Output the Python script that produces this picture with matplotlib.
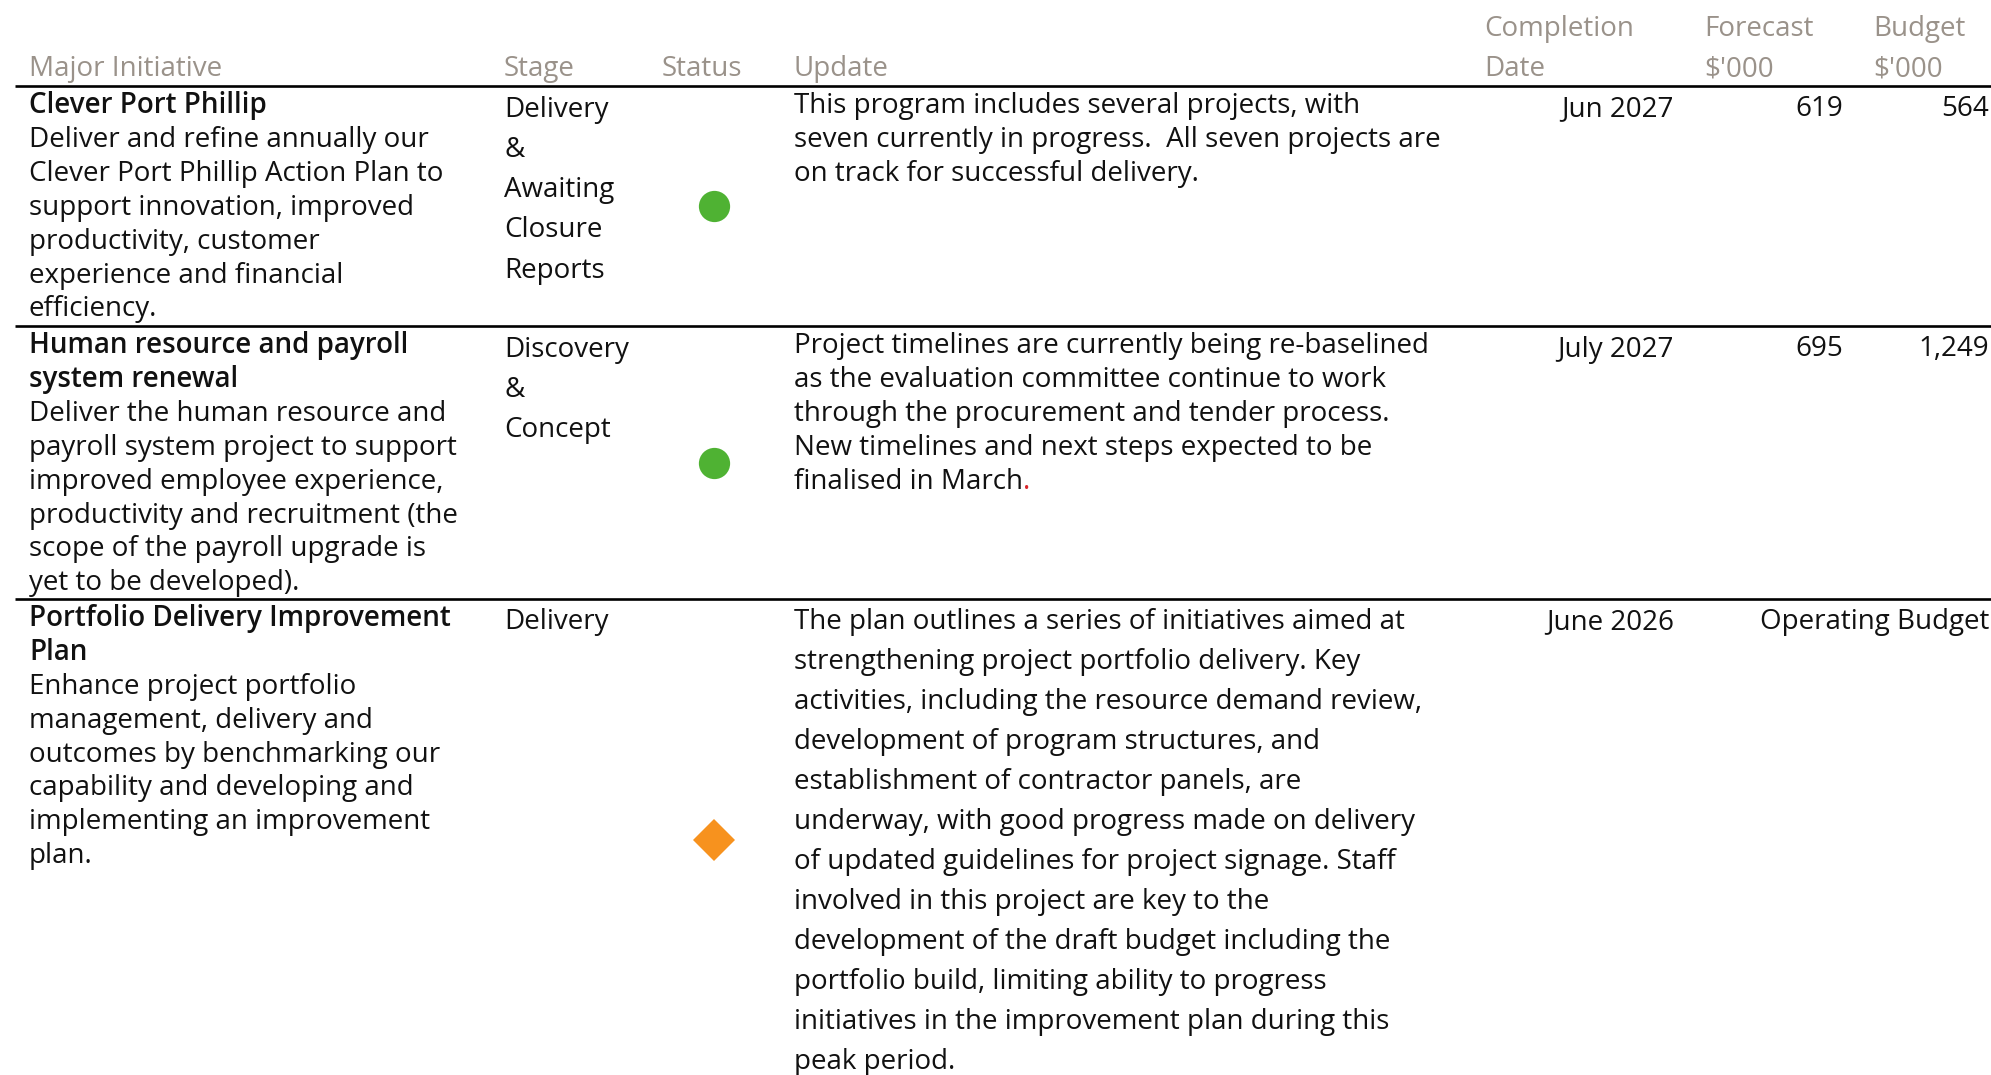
import matplotlib
matplotlib.use("Agg")
import matplotlib.pyplot as plt

# ---------------- data ----------------
headers_top = ["", "", "", "", "Completion", "Forecast", "Budget"]
headers_bottom = ["Major Initiative", "Stage", "Status", "Update", "Date", "$'000", "$'000"]

initiatives = [
    "Clever Port Phillip",
    "Human resource and payroll\nsystem renewal",
    "Portfolio Delivery Improvement\nPlan",
]
descriptions = [
    "Deliver and refine annually our\nClever Port Phillip Action Plan to\nsupport innovation, improved\n"
    "productivity, customer\nexperience and financial\nefficiency.",
    "Deliver the human resource and\npayroll system project to support\nimproved employee experience,\n"
    "productivity and recruitment (the\nscope of the payroll upgrade is\nyet to be developed).",
    "Enhance project portfolio\nmanagement, delivery and\noutcomes by benchmarking our\n"
    "capability and developing and\nimplementing an improvement\nplan.",
]
stages = [
    "Delivery\n&\nAwaiting\nClosure\nReports",
    "Discovery\n&\nConcept",
    "Delivery",
]
statuses = ["On track", "On track", "Monitor"]
updates = [
    "This program includes several projects, with\nseven currently in progress.  All seven projects are\n"
    "on track for successful delivery.",
    "Project timelines are currently being re-baselined\nas the evaluation committee continue to work\n"
    "through the procurement and tender process.\nNew timelines and next steps expected to be\n"
    "finalised in March",
    "The plan outlines a series of initiatives aimed at\nstrengthening project portfolio delivery. Key\n"
    "activities, including the resource demand review,\ndevelopment of program structures, and\n"
    "establishment of contractor panels, are\nunderway, with good progress made on delivery\n"
    "of updated guidelines for project signage. Staff\ninvolved in this project are key to the\n"
    "development of the draft budget including the\nportfolio build, limiting ability to progress\n"
    "initiatives in the improvement plan during this\npeak period.",
]
update_accent = ["", ".", ""]
completion_dates = ["Jun 2027", "July 2027", "June 2026"]
forecast_k = ["619", "695", ""]
budget_k = ["564", "1,249", "Operating Budget"]

# ---------------- style / layout ----------------
W, H = 1991, 1075
FONT = "Open Sans"
FS = 20
TXT = "#111111"
HDR = "#9a928a"
status_style = {"On track": dict(marker="o", color="#4fb233", ms=22.5),
                "Monitor": dict(marker="D", color="#f7921e", ms=21)}

col_x = dict(init=29, stage=504, status_hdr=662, status=714, update=794,
             comp_hdr=1484, comp=1674, fc_hdr=1704, fc=1843, bud_hdr=1873, bud=1989)
hdr_x = [col_x["init"], col_x["stage"], col_x["status_hdr"], col_x["update"],
         col_x["comp_hdr"], col_x["fc_hdr"], col_x["bud_hdr"]]
row_tops = [86, 326, 599]
table_bottom = 1080
line_h_text = 33.9
line_h_stage = 40.3
update_line_h = [33.9, 33.9, 40.0]
update_first = [27, 27, 30.5]

fig = plt.figure(figsize=(W / 100, H / 100), dpi=100)
ax = fig.add_axes([0, 0, 1, 1])
ax.set_xlim(0, W)
ax.set_ylim(H, 0)
ax.axis("off")


def draw_lines(x, y0, text, dy, ha="left", color=TXT, weight="normal"):
    arts = []
    for i, ln in enumerate(text.split("\n")):
        arts.append(ax.text(x, y0 + i * dy, ln, ha=ha, va="baseline", family=FONT,
                            fontsize=FS, color=color, fontweight=weight))
    return arts


# headers
for x, t, b in zip(hdr_x, headers_top, headers_bottom):
    if t:
        ax.text(x, 36, t, ha="left", va="baseline", family=FONT, fontsize=FS,
                color=HDR, fontweight="medium")
    ax.text(x, 76, b, ha="left", va="baseline", family=FONT, fontsize=FS,
            color=HDR, fontweight="medium")

# horizontal rules
for yt in row_tops:
    ax.plot([15, W], [yt, yt], color="black", lw=1.9, solid_capstyle="butt")

bottoms = row_tops[1:] + [table_bottom]
for i in range(len(initiatives)):
    top = row_tops[i]
    y0 = top + 27
    n_title = len(initiatives[i].split("\n"))
    draw_lines(col_x["init"], y0, initiatives[i], line_h_text, weight="semibold")
    draw_lines(col_x["init"], y0 + n_title * line_h_text, descriptions[i], line_h_text)
    draw_lines(col_x["stage"], top + 30.5, stages[i], line_h_stage)
    arts = draw_lines(col_x["update"], top + update_first[i], updates[i], update_line_h[i])
    if update_accent[i]:
        ax.annotate(update_accent[i], xy=(1, 0), xycoords=arts[-1], ha="left", va="bottom",
                    family=FONT, fontsize=FS, color="#d9262b")
    yv = top + 30.5
    ax.text(col_x["comp"], yv, completion_dates[i], ha="right", va="baseline",
            family=FONT, fontsize=FS, color=TXT)
    if forecast_k[i]:
        ax.text(col_x["fc"], yv, forecast_k[i], ha="right", va="baseline",
                family=FONT, fontsize=FS, color=TXT)
    ax.text(col_x["bud"], yv, budget_k[i], ha="right", va="baseline",
            family=FONT, fontsize=FS, color=TXT)
    st = status_style[statuses[i]]
    ax.plot([col_x["status"]], [(top + bottoms[i]) / 2], linestyle="none",
            marker=st["marker"], color=st["color"], markersize=st["ms"], markeredgewidth=0)

fig.savefig("out.png", dpi=100)
